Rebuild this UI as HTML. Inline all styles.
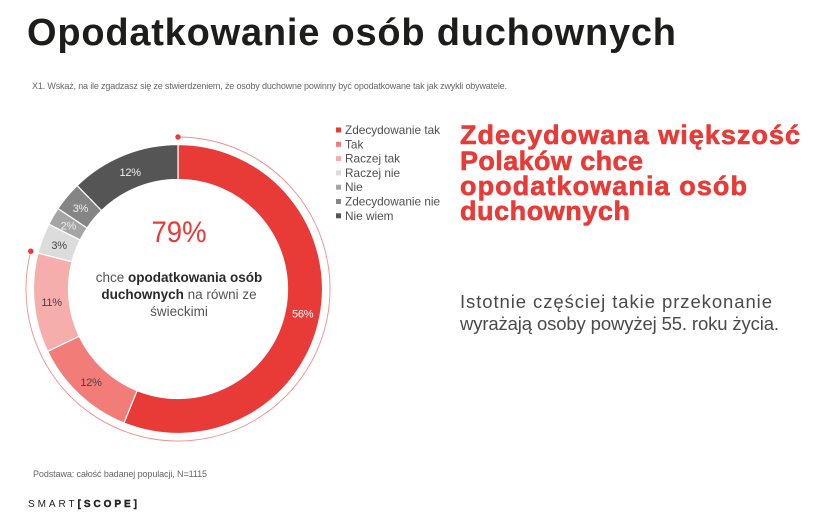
<!DOCTYPE html>
<html lang="pl">
<head>
<meta charset="utf-8">
<title>Opodatkowanie osób duchownych</title>
<style>
html,body{margin:0;padding:0;background:#fff;width:815px;height:526px;overflow:hidden}
svg{display:block}
text{font-family:"Liberation Sans",sans-serif}
</style>
</head>
<body>
<svg id="chart" width="815" height="526" viewBox="0 0 815 526" xmlns="http://www.w3.org/2000/svg">
  <text x="27" y="45" font-size="38" font-weight="700" fill="#1d1d1b" textLength="649" lengthAdjust="spacing">Opodatkowanie osób duchownych</text>
  <text x="32" y="89" font-size="9" fill="#666" textLength="475" lengthAdjust="spacing">X1. Wskaż, na ile zgadzasz się ze stwierdzeniem, że osoby duchowne powinny być opodatkowane tak jak zwykli obywatele.</text>

  <g id="donut"></g>
  <g id="legend"></g>

  <text x="179" y="242" font-size="30" fill="#e83a36" text-anchor="middle" textLength="55" lengthAdjust="spacingAndGlyphs">79%</text>
  <text x="179" y="282" font-size="13.5" fill="#555" text-anchor="middle">chce <tspan font-weight="700" fill="#2a2a2a">opodatkowania osób</tspan></text>
  <text x="179" y="299" font-size="13.5" fill="#555" text-anchor="middle"><tspan font-weight="700" fill="#2a2a2a">duchownych</tspan> na równi ze</text>
  <text x="179" y="316" font-size="13.5" fill="#555" text-anchor="middle">świeckimi</text>

  <g font-size="27" font-weight="700" fill="#e83a36" stroke="#e83a36" stroke-width="0.6">
    <text x="460" y="144" textLength="340" lengthAdjust="spacing">Zdecydowana większość</text>
    <text x="460" y="170" textLength="183" lengthAdjust="spacing">Polaków chce</text>
    <text x="460" y="195" textLength="287" lengthAdjust="spacing">opodatkowania osób</text>
    <text x="460" y="220" textLength="170" lengthAdjust="spacing">duchownych</text>
  </g>

  <text x="460" y="308" font-size="18.5" fill="#4a4a4a" textLength="312" lengthAdjust="spacing">Istotnie częściej takie przekonanie</text>
  <text x="460" y="330" font-size="18.5" fill="#4a4a4a" textLength="319" lengthAdjust="spacing">wyrażają osoby powyżej 55. roku życia.</text>

  <text x="33" y="477" font-size="9" fill="#666" textLength="174" lengthAdjust="spacing">Podstawa: całość badanej populacji, N=1115</text>
  <text x="28" y="507" font-size="10" fill="#222" textLength="109" lengthAdjust="spacing">SMART<tspan font-weight="700" stroke="#222" stroke-width="0.4">[SCOPE]</tspan></text>
</svg>
<script>
const categories = ["Zdecydowanie tak", "Tak", "Raczej tak", "Raczej nie", "Nie", "Zdecydowanie nie", "Nie wiem"];
const seriesValues = [56.1, 11.8, 11.1, 3.4, 2.0, 3.3, 12.3];
const seriesColors = ["#e83a36", "#f27c78", "#f5aeac", "#dcdcdc", "#a5a5a5", "#858585", "#555555"];
const labelColors = ["#ffffff", "#444444", "#444444", "#444444", "#eeeeee", "#eeeeee", "#eeeeee"];
const highlightedCount = 3;

const NS = "http://www.w3.org/2000/svg";
const cx = 178, cy = 289, rOuter = 144.5, rInner = 109.5, rLabel = 127, rGuide = 152;
const donut = document.getElementById("donut");
const legend = document.getElementById("legend");
const total = seriesValues.reduce((a, b) => a + b, 0);

function angleOf(v) { return v / total * 2 * Math.PI; }
function px(r, a) { return cx + r * Math.sin(a); }
function py(r, a) { return cy - r * Math.cos(a); }

let cum = 0;
seriesValues.forEach((v, i) => {
  const a0 = angleOf(cum), a1 = angleOf(cum + v);
  const large = a1 - a0 > Math.PI ? 1 : 0;
  const path = document.createElementNS(NS, "path");
  path.setAttribute("d",
    "M" + px(rOuter, a0) + " " + py(rOuter, a0) +
    "A" + rOuter + " " + rOuter + " 0 " + large + " 1 " + px(rOuter, a1) + " " + py(rOuter, a1) +
    "L" + px(rInner, a1) + " " + py(rInner, a1) +
    "A" + rInner + " " + rInner + " 0 " + large + " 0 " + px(rInner, a0) + " " + py(rInner, a0) + "Z");
  path.setAttribute("fill", seriesColors[i]);
  path.setAttribute("stroke", "#fff");
  path.setAttribute("stroke-width", "1.2");
  
  
  donut.appendChild(path);
  cum += v;
});

cum = 0;
seriesValues.forEach((v, i) => {
  const mid = angleOf(cum + v / 2);
  const t = document.createElementNS(NS, "text");
  t.setAttribute("x", px(rLabel, mid));
  t.setAttribute("y", py(rLabel, mid) + 4.5);
  t.setAttribute("font-size", "11");
  t.setAttribute("letter-spacing", "-0.25");
  t.setAttribute("text-anchor", "middle");
  t.setAttribute("fill", labelColors[i]);
  
  
  t.textContent = Math.round(v) + "%";
  donut.appendChild(t);
  cum += v;
});

const highlightTotal = seriesValues.slice(0, highlightedCount).reduce((a, b) => a + b, 0);
const guideEnd = angleOf(highlightTotal);
const guide = document.createElementNS(NS, "path");
guide.setAttribute("d",
  "M" + px(rGuide, 0) + " " + py(rGuide, 0) +
  "A" + rGuide + " " + rGuide + " 0 " + (guideEnd > Math.PI ? 1 : 0) + " 1 " + px(rGuide, guideEnd) + " " + py(rGuide, guideEnd));
guide.setAttribute("fill", "none");
guide.setAttribute("stroke", "#f08f8c");
guide.setAttribute("stroke-width", "0.9");


donut.appendChild(guide);

[0, guideEnd].forEach((a) => {
  const dot = document.createElementNS(NS, "circle");
  dot.setAttribute("cx", px(rGuide, a));
  dot.setAttribute("cy", py(rGuide, a));
  dot.setAttribute("r", "2.7");
  dot.setAttribute("fill", "#e83a36");
  
  
  donut.appendChild(dot);
});

categories.forEach((name, i) => {
  const rowY = 130 + i * 14.3;
  const box = document.createElementNS(NS, "rect");
  box.setAttribute("x", 336);
  box.setAttribute("y", rowY - 2.5);
  box.setAttribute("width", 5);
  box.setAttribute("height", 5);
  box.setAttribute("fill", seriesColors[i]);
  
  
  legend.appendChild(box);
  const t = document.createElementNS(NS, "text");
  t.setAttribute("x", 345);
  t.setAttribute("y", rowY + 4);
  t.setAttribute("font-size", "11.8");
  t.setAttribute("fill", "#505050");
  
  
  t.textContent = name;
  legend.appendChild(t);
});
</script>
</body>
</html>
